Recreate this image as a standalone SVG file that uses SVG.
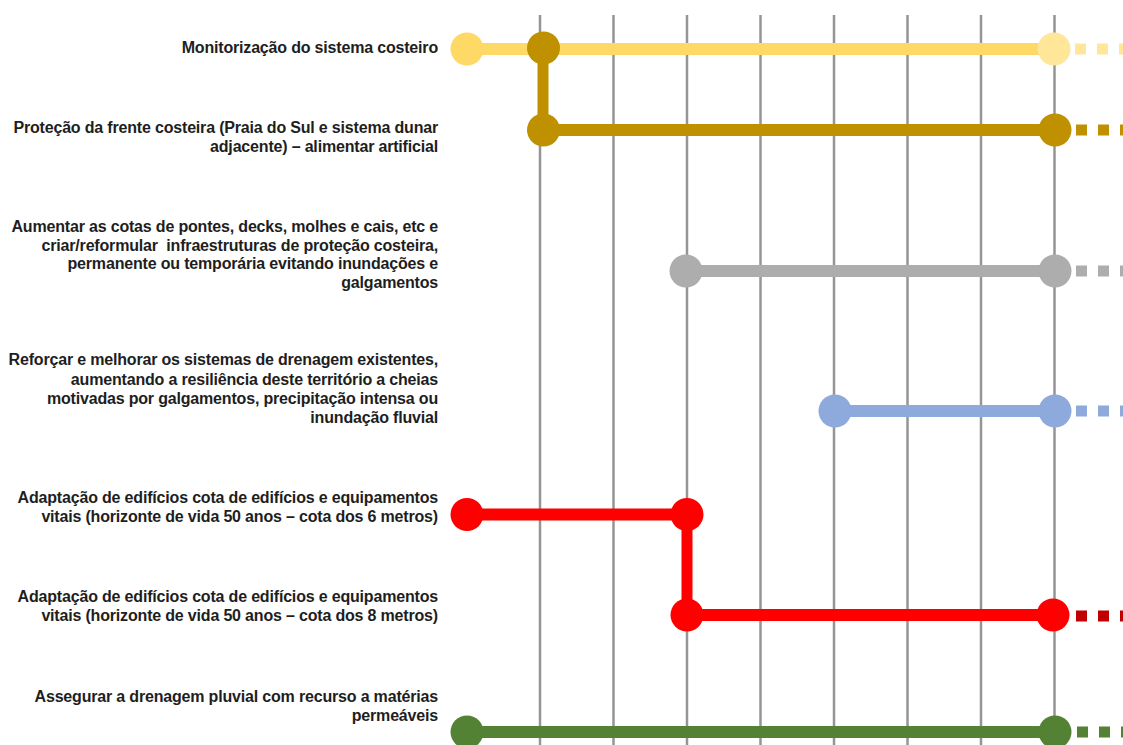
<svg xmlns="http://www.w3.org/2000/svg" width="1123" height="745" viewBox="0 0 1123 745">
<style>
text{font-family:"Liberation Sans",Arial,sans-serif;font-weight:bold;font-size:16px;letter-spacing:-0.18px;fill:#1e1e1e;text-anchor:end}
.grid line{stroke:#959595;stroke-width:2.5}
.bar{stroke-width:12;fill:none}
.dash{stroke-width:11;stroke-dasharray:11 11}
</style>
<rect width="1123" height="745" fill="#ffffff"/>
<g id="grid" class="grid">
<line x1="540" y1="15" x2="540" y2="745"/>
<line x1="613.5" y1="15" x2="613.5" y2="745"/>
<line x1="687" y1="15" x2="687" y2="745"/>
<line x1="760.5" y1="15" x2="760.5" y2="745"/>
<line x1="834" y1="15" x2="834" y2="745"/>
<line x1="907.5" y1="15" x2="907.5" y2="745"/>
<line x1="981" y1="15" x2="981" y2="745"/>
<line x1="1054.5" y1="15" x2="1054.5" y2="745"/>
</g>
<g id="connectors">
<line x1="543" y1="48" x2="543" y2="130" stroke="#BF9000" stroke-width="11"/>
<line x1="687" y1="514" x2="687" y2="615" stroke="#FF0000" stroke-width="11"/>
</g>
<g id="row1">
<text x="438" y="53">Monitorização do sistema costeiro</text>
<line x1="483" y1="43.5" x2="515" y2="43.5" stroke="#9a9a9a" stroke-width="1"/>
<line class="bar" x1="467" y1="49" x2="1054" y2="49" stroke="#FFD966"/>
<circle cx="467" cy="49" r="16.5" fill="#FFD966"/>
<circle cx="1054" cy="49" r="16.5" fill="#FFE699"/>
<line class="dash" x1="1075" y1="49" x2="1123" y2="49" stroke="#FFE699"/>
</g>
<g id="row2">
<text x="438" y="133">Proteção da frente costeira (Praia do Sul e sistema dunar</text>
<text x="438" y="152">adjacente) – alimentar artificial</text>
<line class="bar" x1="543" y1="130" x2="1055" y2="130" stroke="#BF9000"/>
<circle cx="543.5" cy="48" r="16.5" fill="#BF9000"/>
<circle cx="543.5" cy="130" r="16.5" fill="#BF9000"/>
<circle cx="1055" cy="130" r="16.5" fill="#BF9000"/>
<line class="dash" x1="1076" y1="130" x2="1123" y2="130" stroke="#BF9000"/>
</g>
<g id="row3">
<text x="438" y="232">Aumentar as cotas de pontes, decks, molhes e cais, etc e</text>
<text x="438" y="250.5" xml:space="preserve" style="white-space:pre">criar/reformular  infraestruturas de proteção costeira,</text>
<text x="438" y="269">permanente ou temporária evitando inundações e</text>
<text x="438" y="288">galgamentos</text>
<line class="bar" x1="686" y1="271" x2="1055" y2="271" stroke="#ADADAD"/>
<circle cx="686" cy="271" r="16.5" fill="#ADADAD"/>
<circle cx="1055" cy="271" r="16.5" fill="#ADADAD"/>
<line class="dash" x1="1076" y1="271" x2="1123" y2="271" stroke="#ADADAD"/>
</g>
<g id="row4">
<text x="438" y="365">Reforçar e melhorar os sistemas de drenagem existentes,</text>
<text x="438" y="384.5">aumentando a resiliência deste território a cheias</text>
<text x="438" y="404">motivadas por galgamentos, precipitação intensa ou</text>
<text x="438" y="423">inundação fluvial</text>
<line class="bar" x1="835" y1="411" x2="1055" y2="411" stroke="#8EA9DB"/>
<circle cx="835" cy="411" r="16.5" fill="#8EA9DB"/>
<circle cx="1055" cy="411" r="16.5" fill="#8EA9DB"/>
<line class="dash" x1="1076" y1="411" x2="1123" y2="411" stroke="#8EA9DB"/>
</g>
<g id="row5">
<text x="438" y="503">Adaptação de edifícios cota de edifícios e equipamentos</text>
<text x="438" y="522">vitais (horizonte de vida 50 anos – cota dos 6 metros)</text>
<line class="bar" x1="467" y1="514.5" x2="687" y2="514.5" stroke="#FF0000"/>
<circle cx="467" cy="514.5" r="16.5" fill="#FF0000"/>
<circle cx="687" cy="514.5" r="16.5" fill="#FF0000"/>
</g>
<g id="row6">
<text x="438" y="602">Adaptação de edifícios cota de edifícios e equipamentos</text>
<text x="438" y="621">vitais (horizonte de vida 50 anos – cota dos 8 metros)</text>
<line class="bar" x1="687" y1="615" x2="1053" y2="615" stroke="#FF0000"/>
<circle cx="687" cy="615" r="16.5" fill="#FF0000"/>
<circle cx="1053" cy="615" r="16.5" fill="#FF0000"/>
<line class="dash" x1="1076" y1="616" x2="1123" y2="616" stroke="#C00000"/>
</g>
<g id="row7">
<text x="438" y="702">Assegurar a drenagem pluvial com recurso a matérias</text>
<text x="438" y="721">permeáveis</text>
<line class="bar" x1="467" y1="732" x2="1055" y2="732" stroke="#548235"/>
<circle cx="467" cy="732" r="16.5" fill="#548235"/>
<circle cx="1055" cy="732" r="16.5" fill="#548235"/>
<line class="dash" x1="1077" y1="732" x2="1123" y2="732" stroke="#548235"/>
</g>
</svg>
